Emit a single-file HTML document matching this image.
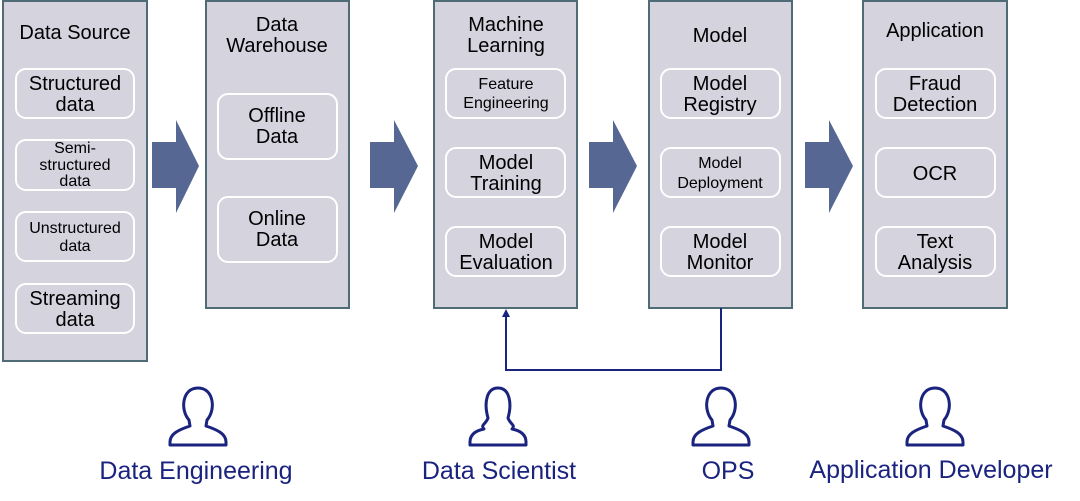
<!DOCTYPE html>
<html><head><meta charset="utf-8"><style>
html,body{margin:0;padding:0;background:#fff;}
svg{display:block;}
text{font-family:"Liberation Sans",sans-serif;fill:#000;text-anchor:middle;}
.col{fill:#d4d3de;stroke:#4f6b75;stroke-width:2;}
.in{fill:#d4d3de;stroke:#fff;stroke-width:2;}
.b{font-size:20px;}
.s{font-size:16px;}
.arr{fill:#556792;}
.p{fill:none;stroke:#1a237e;stroke-width:3;stroke-linejoin:round;}
.lbl{font-size:25px;fill:#1a237e;}
</style></head><body>
<svg width="1080" height="501" viewBox="0 0 1080 501">
<defs>
<path id="pp" class="p" d="M-9,20 C-18,10 -16,-12 0,-12 C16,-12 18,10 9,20 L8,26 C20,30 28,34 28,42 L28,45 L-28,45 L-28,42 C-28,34 -20,30 -8,26 Z"/>
</defs>
<rect class="col" x="3" y="1" width="144" height="360"/>
<rect class="col" x="206" y="1" width="143" height="307"/>
<rect class="col" x="434" y="1" width="143" height="307"/>
<rect class="col" x="649" y="1" width="143" height="307"/>
<rect class="col" x="863" y="1" width="144" height="307"/>
<polygon class="arr" points="152,142 176,142 176,120 199,166 176,213 176,188 152,188"/>
<polygon class="arr" points="370,142 394,142 394,120 418,166 394,213 394,188 370,188"/>
<polygon class="arr" points="589,142 613,142 613,120 637,166 613,213 613,188 589,188"/>
<polygon class="arr" points="805,142 829,142 829,120 853,166 829,213 829,188 805,188"/>
<text class="b" x="75" y="39">Data Source</text>
<rect class="in" x="16" y="69" width="118" height="49" rx="10"/>
<text class="b" x="75" y="90">Structured</text><text class="b" x="75" y="111">data</text>
<rect class="in" x="16" y="140" width="118" height="50" rx="10"/>
<text class="s" x="75" y="153">Semi-</text><text class="s" x="75" y="170">structured</text><text class="s" x="75" y="186">data</text>
<rect class="in" x="16" y="212" width="118" height="49" rx="10"/>
<text class="s" x="75" y="233">Unstructured</text><text class="s" x="75" y="251">data</text>
<rect class="in" x="16" y="284" width="118" height="49" rx="10"/>
<text class="b" x="75" y="305">Streaming</text><text class="b" x="75" y="326">data</text>
<text class="b" x="277" y="31">Data</text><text class="b" x="277" y="52">Warehouse</text>
<rect class="in" x="218" y="94" width="119" height="65" rx="10"/>
<text class="b" x="277" y="122">Offline</text><text class="b" x="277" y="143">Data</text>
<rect class="in" x="218" y="197" width="119" height="65" rx="10"/>
<text class="b" x="277" y="225">Online</text><text class="b" x="277" y="246">Data</text>
<text class="b" x="506" y="31">Machine</text><text class="b" x="506" y="52">Learning</text>
<rect class="in" x="446" y="69" width="119" height="49" rx="10"/>
<text class="s" x="506" y="89">Feature</text><text class="s" x="506" y="108">Engineering</text>
<rect class="in" x="446" y="148" width="119" height="49" rx="10"/>
<text class="b" x="506" y="169">Model</text><text class="b" x="506" y="190">Training</text>
<rect class="in" x="446" y="227" width="119" height="49" rx="10"/>
<text class="b" x="506" y="248">Model</text><text class="b" x="506" y="269">Evaluation</text>
<text class="b" x="720" y="42">Model</text>
<rect class="in" x="661" y="69" width="119" height="49" rx="10"/>
<text class="b" x="720" y="90">Model</text><text class="b" x="720" y="111">Registry</text>
<rect class="in" x="661" y="148" width="119" height="49" rx="10"/>
<text class="s" x="720" y="168">Model</text><text class="s" x="720" y="188">Deployment</text>
<rect class="in" x="661" y="227" width="119" height="49" rx="10"/>
<text class="b" x="720" y="248">Model</text><text class="b" x="720" y="269">Monitor</text>
<text class="b" x="935" y="37">Application</text>
<rect class="in" x="876" y="69" width="119" height="49" rx="10"/>
<text class="b" x="935" y="90">Fraud</text><text class="b" x="935" y="111">Detection</text>
<rect class="in" x="876" y="148" width="119" height="49" rx="10"/>
<text class="b" x="935" y="180">OCR</text>
<rect class="in" x="876" y="227" width="119" height="49" rx="10"/>
<text class="b" x="935" y="248">Text</text><text class="b" x="935" y="269">Analysis</text>
<polyline points="721,308 721,370 506,370 506,316" fill="none" stroke="#1a237e" stroke-width="2"/>
<polygon points="506,309 502,317 510,317" fill="#1a237e"/>
<use href="#pp" x="198" y="400"/>
<path class="p" transform="translate(498,400)" d="M-10,18 C-14,4 -12,-12 0,-12 C12,-12 14,4 10,18 C12,24 18,25 14,29 C24,31 28,36 28,42 L28,45 L-28,45 L-28,42 C-28,36 -24,31 -14,29 C-18,25 -12,24 -10,18 Z"/>
<use href="#pp" x="721" y="400"/>
<use href="#pp" x="935" y="400"/>
<text class="lbl" x="196" y="479">Data Engineering</text>
<text class="lbl" x="499" y="479">Data Scientist</text>
<text class="lbl" x="728" y="479">OPS</text>
<text class="lbl" x="931" y="478">Application Developer</text>
</svg>
</body></html>
